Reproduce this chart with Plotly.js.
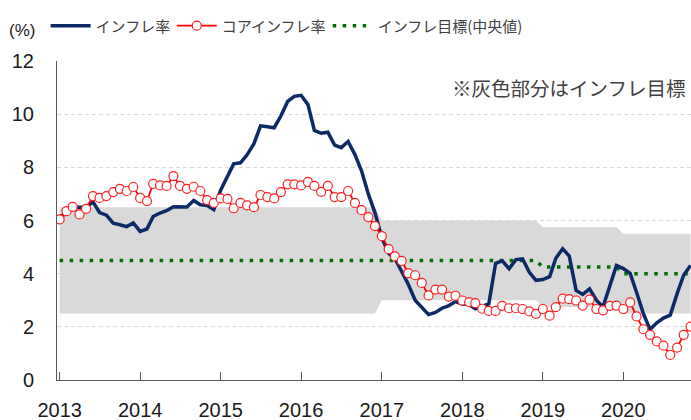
<!DOCTYPE html>
<html>
<head>
<meta charset="utf-8">
<script src="https://cdn.plot.ly/plotly-3.0.1.min.js"></script>
<style>
  html, body { margin: 0; padding: 0; background: #ffffff; }
  #chart { width: 691px; height: 420px; }
</style>
</head>
<body>
<div id="chart"></div>
<script>
// ---- data (monthly, Jan 2013 - Nov 2020) ----
const firstYear = 2013, firstMonth = 1, monthCount = 95;

const inflation = [
  6.15, 6.25, 6.50, 6.49, 6.50, 6.70, 6.30, 6.20, 5.90, 5.84, 5.77, 5.91,
  5.59, 5.68, 6.15, 6.28, 6.37, 6.52, 6.50, 6.51, 6.75, 6.59, 6.56, 6.41,
  7.14, 7.70, 8.13, 8.17, 8.47, 8.89, 9.56, 9.53, 9.49, 9.93, 10.48, 10.67,
  10.71, 10.36, 9.39, 9.28, 9.32, 8.84, 8.74, 8.97, 8.48, 7.87, 6.99, 6.29,
  5.35, 4.76, 4.57, 4.08, 3.60, 3.00, 2.71, 2.46, 2.54, 2.70, 2.80, 2.95,
  2.86, 2.84, 2.68, 2.76, 2.86, 4.39, 4.48, 4.19, 4.53, 4.56, 4.05, 3.75,
  3.78, 3.89, 4.58, 4.94, 4.66, 3.37, 3.22, 3.43, 3.00, 2.75, 3.50, 4.31,
  4.19, 4.01, 3.30, 2.50, 1.90, 2.15, 2.33, 2.44, 3.25, 3.95, 4.31
];

const coreInflation = [
  6.04, 6.35, 6.51, 6.23, 6.44, 6.92, 6.85, 6.92, 7.07, 7.19, 7.11, 7.26,
  6.85, 6.73, 7.38, 7.32, 7.30, 7.67, 7.30, 7.19, 7.27, 7.11, 6.77, 6.66,
  6.83, 6.81, 6.46, 6.66, 6.57, 6.50, 6.96, 6.88, 6.83, 7.07, 7.36, 7.36,
  7.32, 7.45, 7.30, 7.08, 7.30, 6.88, 6.88, 7.11, 6.66, 6.39, 6.13, 5.79,
  5.41, 4.92, 4.65, 4.48, 4.02, 3.94, 3.65, 3.18, 3.40, 3.40, 3.14, 3.17,
  2.99, 2.93, 2.89, 2.68, 2.60, 2.60, 2.79, 2.70, 2.70, 2.67, 2.58, 2.49,
  2.67, 2.42, 2.74, 3.06, 3.04, 2.99, 2.80, 3.02, 2.67, 2.62, 2.79, 2.80,
  2.67, 2.92, 2.39, 1.91, 1.70, 1.45, 1.29, 0.94, 1.22, 1.70, 2.01
];

// inflation target (centre) and tolerance band, at the points where it changes
const targetDates = ['2013-01-01', '2016-12-01', '2017-01-01', '2018-12-01', '2019-01-01', '2019-12-01', '2020-01-01', '2020-11-01'];
const targetMid   = [4.5, 4.5, 4.5, 4.5, 4.25, 4.25, 4.0, 4.0];
const targetLow   = [2.5, 2.5, 3.0, 3.0, 2.75, 2.75, 2.5, 2.5];
const targetHigh  = [6.5, 6.5, 6.0, 6.0, 5.75, 5.75, 5.5, 5.5];

const yearTickVals  = ['2013-01-01', '2014-01-01', '2015-01-01', '2016-01-01', '2017-01-01', '2018-01-01', '2019-01-01', '2020-01-01'];
const yearTickTexts = ['2013', '2014', '2015', '2016', '2017', '2018', '2019', '2020'];

const seriesNames = ['インフレ率', 'コアインフレ率', 'インフレ目標(中央値)'];
const unitLabel = '(%)';
const noteText = '※灰色部分はインフレ目標';

// month dates
const months = [];
for (let i = 0; i < monthCount; i++) {
  const m0 = firstMonth - 1 + i;
  const y = firstYear + Math.floor(m0 / 12);
  const m = (m0 % 12) + 1;
  months.push(y + '-' + String(m).padStart(2, '0') + '-01');
}

const jpFont = 'Noto Sans CJK JP, sans-serif';
const numFont = 'Liberation Sans, Arial, sans-serif';

const traces = [
  { x: targetDates, y: targetLow, type: 'scatter', mode: 'lines',
    line: { width: 0, color: '#d9d9d9' }, showlegend: false, hoverinfo: 'skip' },
  { x: targetDates, y: targetHigh, type: 'scatter', mode: 'lines', fill: 'tonexty',
    fillcolor: '#d9d9d9', line: { width: 0, color: '#d9d9d9' }, showlegend: false, hoverinfo: 'skip' },
  { x: targetDates, y: targetMid, type: 'scatter', mode: 'lines', name: seriesNames[2],
    line: { color: '#007000', width: 3.5, dash: '3.5px,6.5px' }, legend: 'legend3' },
  { x: months, y: inflation, type: 'scatter', mode: 'lines', name: seriesNames[0],
    line: { color: '#0c2a66', width: 3.5 }, legend: 'legend' },
  { x: months, y: coreInflation, type: 'scatter', mode: 'lines+markers', name: seriesNames[1],
    line: { color: '#ff0000', width: 1.8 },
    marker: { symbol: 'circle', size: 9, color: '#ffffff', line: { color: '#ff2020', width: 1.2 } },
    legend: 'legend2' }
];

function legendAt(xPaper) {
  return {
    orientation: 'h', x: xPaper, xanchor: 'left', y: 1.11, yanchor: 'middle',
    font: { family: jpFont, size: 15, color: '#404040' },
    bgcolor: 'rgba(0,0,0,0)', itemwidth: 40
  };
}

const layout = {
  width: 691, height: 420,
  margin: { l: 57, r: 0, t: 61, b: 40, pad: 0 },
  paper_bgcolor: '#ffffff', plot_bgcolor: '#ffffff',
  showlegend: true,
  legend: legendAt(-0.018),
  legend2: legendAt(0.181),
  legend3: legendAt(0.427),
  xaxis: {
    type: 'date', range: ['2012-12-20', '2020-11-03'],
    tickmode: 'array', tickvals: yearTickVals, ticktext: yearTickTexts,
    ticks: 'inside', ticklen: 8, tickwidth: 1, tickcolor: '#595959',
    showline: true, linecolor: '#595959', linewidth: 1,
    showgrid: false, zeroline: false,
    tickfont: { family: numFont, size: 20, color: '#1a1a1a' },
    ticklabelstandoff: 12
  },
  yaxis: {
    range: [0, 12], dtick: 2, tick0: 0,
    showgrid: true, gridcolor: '#d9d9d9', gridwidth: 1, griddash: '4px,3px',
    showline: true, linecolor: '#595959', linewidth: 1,
    zeroline: false, ticks: '',
    tickfont: { family: numFont, size: 20, color: '#1a1a1a' },
    ticklabelstandoff: 18
  },
  annotations: [
    { text: unitLabel, xref: 'paper', yref: 'paper', x: -0.055, y: 1.095,
      xanchor: 'center', yanchor: 'middle', showarrow: false,
      font: { family: numFont, size: 17, color: '#1a1a1a' } },
    { text: noteText, xref: 'paper', yref: 'paper', x: 0.62, y: 0.918,
      xanchor: 'left', yanchor: 'middle', showarrow: false,
      font: { family: jpFont, size: 19.5, color: '#404040' } }
  ]
};

Plotly.newPlot('chart', traces, layout, { displayModeBar: false, staticPlot: true });
</script>
</body>
</html>
